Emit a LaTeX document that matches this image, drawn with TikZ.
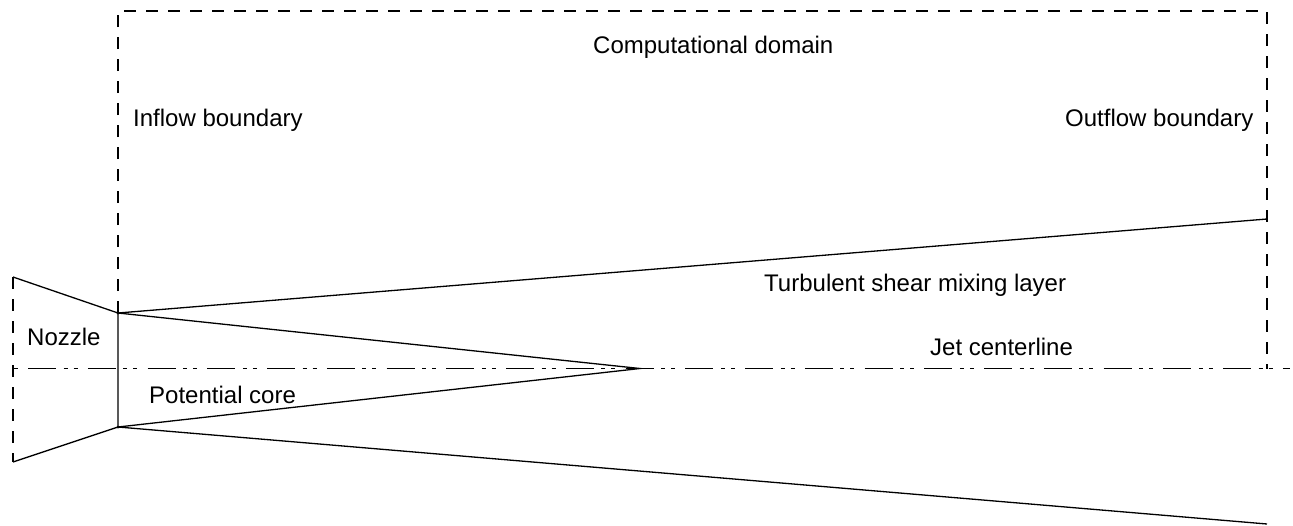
\documentclass[tikz,border=0pt]{standalone}
\usepackage{fontspec}
\setmainfont{Liberation Sans}
\begin{document}
\begin{tikzpicture}[x=1pt,y=-1pt,
  lbl/.style={inner sep=0pt, anchor=base west, font=\fontsize{24}{28}\selectfont},
  solidline/.style={line width=1.3pt},
  boxdash/.style={line width=1.2pt, dash pattern=on 12pt off 10pt},
  centerdash/.style={line width=1.2pt, dash pattern=on 28pt off 7.5pt on 4pt off 6pt on 4pt off 10.25pt, dash phase=44.75pt},
  joint/.style={circle, fill=black, inner sep=0pt, minimum size=3pt}]
\useasboundingbox (0,0) rectangle (1293,525);
% geometry points
\coordinate (exitT) at (118,313);
\coordinate (exitB) at (118,427);
\coordinate (nozT) at (13,277);
\coordinate (nozB) at (13,462);
\coordinate (boxTL) at (118,11);
\coordinate (boxTR) at (1267,11);
\coordinate (boxBR) at (1267,368.5);
\coordinate (shearT) at (1267,219);
\coordinate (shearB) at (1267,524);
\coordinate (apex) at (640,368.5);
\coordinate (clL) at (13,368.5);
\coordinate (clR) at (1290,368.5);
% computational domain
\draw[boxdash] (exitT) -- (boxTL) -- (boxTR) -- (boxBR);
% nozzle
\draw[boxdash] (nozT) -- (nozB);
\draw[solidline] (nozT) -- (exitT) -- (exitB) -- (nozB);
% shear layer
\draw[solidline] (exitT) -- (shearT);
\draw[solidline] (exitB) -- (shearB);
% potential core
\draw[solidline] (exitT) -- (apex) -- (exitB);
% centerline
\draw[centerdash] (clL) -- (clR);
\node[joint] (jT) at (exitT) {};
\node[joint] (jB) at (exitB) {};
% labels
\node[lbl] (comp) at (593,53) {Computational domain};
\node[lbl] (inflow) at (133,126) {Inflow boundary};
\node[lbl] (outflow) at (1065,126) {Outflow boundary};
\node[lbl] (shear) at (764,291.5) {Turbulent shear mixing layer};
\node[lbl] (jet) at (930,355) {Jet centerline};
\node[lbl] (core) at (149,403) {Potential core};
\node[lbl] (nozzle) at (27,345) {Nozzle};
\end{tikzpicture}
\end{document}
